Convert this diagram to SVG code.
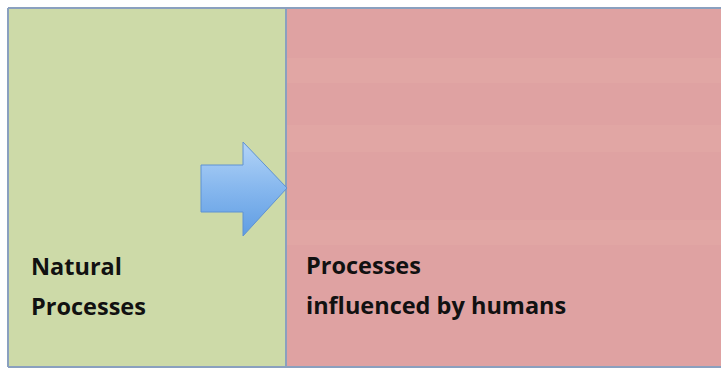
<svg xmlns="http://www.w3.org/2000/svg" width="721" height="370" viewBox="0 0 721 370">
  <defs>
    <linearGradient id="arrowFill" x1="0" y1="0" x2="0" y2="1">
      <stop offset="0" stop-color="#b3d4f7"/>
      <stop offset="0.5" stop-color="#86b7ee"/>
      <stop offset="1" stop-color="#5f9de3"/>
    </linearGradient>
    <style>
      .label { font-family: "Open Sans", "Liberation Sans", sans-serif; font-weight: bold; font-size: 23.5px; fill: #111111; }
      .edge { stroke: #8aa0bf; stroke-width: 2; fill: none; }
      .band { fill: #e1a6a4; }
    </style>
  </defs>

  <rect x="0" y="0" width="721" height="370" fill="#ffffff"/>

  <g id="natural">
    <rect x="8" y="8" width="278" height="359" fill="#cddaa8"/>
    <text class="label" x="31" y="275">Natural</text>
    <text class="label" x="31" y="315">Processes</text>
  </g>

  <g id="human">
    <rect x="286" y="8" width="435" height="359" fill="#dfa2a2"/>
    <rect class="band" x="287" y="58" width="434" height="25"/>
    <rect class="band" x="287" y="125" width="434" height="27"/>
    <rect class="band" x="287" y="220" width="434" height="25"/>
    <text class="label" x="306" y="274">Processes</text>
    <text class="label" x="306" y="314">influenced by humans</text>
  </g>

  <g id="frame">
    <line class="edge" x1="8" y1="8" x2="721" y2="8"/>
    <line class="edge" x1="8" y1="8" x2="8" y2="367"/>
    <line class="edge" x1="8" y1="367" x2="721" y2="367"/>
    <line class="edge" x1="286" y1="8" x2="286" y2="367"/>
  </g>

  <g id="connectors">
    <path d="M201,165 L243,165 L243,142 L287,188 L243,236 L243,212 L201,212 Z" fill="url(#arrowFill)" stroke="#5f92d2" stroke-width="1" stroke-linejoin="round"/>
  </g>
</svg>
